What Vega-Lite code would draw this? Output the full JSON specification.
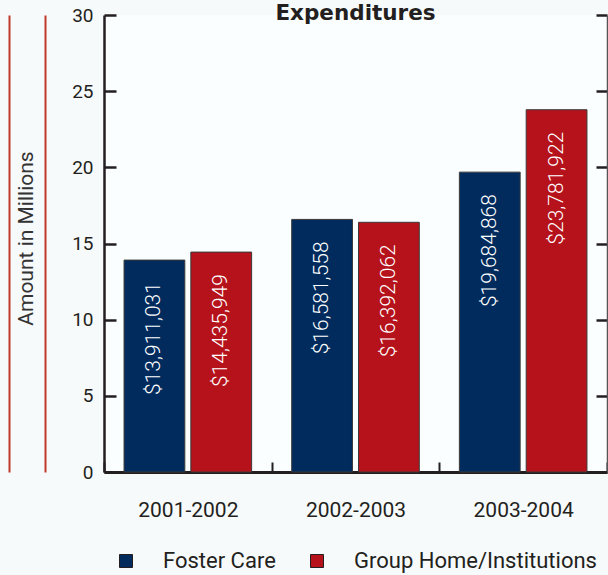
{
  "$schema": "https://vega.github.io/schema/vega-lite/v6.json",
  "autosize": "none",
  "width": 503,
  "height": 457,
  "padding": {"left": 104, "top": 15, "right": 1, "bottom": 103},
  "background": "#f7fafa",
  "view": {"fill": "#fbfefe", "stroke": null},
  "title": {"text": "Expenditures", "font": "DejaVu Sans", "fontWeight": "bold", "fontSize": 21.5, "color": "#231f20", "frame": "group", "anchor": "middle", "offset": -35, "baseline": "alphabetic"},
  "data": {"values": [
    {"year": "2001-2002", "type": "Foster Care", "amount": 13911031},
    {"year": "2001-2002", "type": "Group Home/Institutions", "amount": 14435949},
    {"year": "2002-2003", "type": "Foster Care", "amount": 16581558},
    {"year": "2002-2003", "type": "Group Home/Institutions", "amount": 16392062},
    {"year": "2003-2004", "type": "Foster Care", "amount": 19684868},
    {"year": "2003-2004", "type": "Group Home/Institutions", "amount": 23781922}
  ]},
  "encoding": {
    "x": {"field": "year", "type": "nominal", "scale": {"paddingInner": 0, "paddingOuter": 0},
      "axis": {"title": null, "labelAngle": 0, "tickBand": "extent", "tickSize": -10, "tickWidth": 2, "tickColor": "#231f20", "domainColor": "#231f20", "domainWidth": 3, "labelFont": "Roboto", "labelFontSize": 21, "labelColor": "#231f20", "labelPadding": 37}},
    "xOffset": {"field": "type", "type": "nominal", "scale": {"paddingInner": 0.09, "paddingOuter": 0.3}}
  },
  "layer": [
    {
      "layer": [
        {
          "mark": {"type": "bar", "stroke": "#3a3a3a", "strokeWidth": 1},
          "encoding": {
            "y": {"field": "amount", "type": "quantitative", "scale": {"domain": [0, 30000000], "nice": false},
              "axis": {"values": [0, 5000000, 10000000, 15000000, 20000000, 25000000, 30000000], "labelExpr": "datum.value / 1000000", "grid": false, "tickSize": -12, "tickWidth": 2.5, "tickColor": "#231f20", "domainColor": "#231f20", "domainWidth": 2.5, "labelFont": "Roboto", "labelFontSize": 19, "labelColor": "#231f20", "labelPadding": 23, "title": "Amount in Millions", "titleFont": "Roboto", "titleFontSize": 21, "titleFontWeight": "normal", "titleColor": "#333333", "titlePadding": 35, "titleY": 223}},
            "color": {"field": "type", "type": "nominal", "scale": {"domain": ["Foster Care", "Group Home/Institutions"], "range": ["#002b5c", "#b5121b"]},
              "legend": {"orient": "none", "legendX": 11, "legendY": 535, "direction": "horizontal", "title": null, "symbolType": "square", "symbolSize": 169, "symbolStrokeColor": "#231f20", "symbolStrokeWidth": 1, "labelFont": "Roboto", "labelFontSize": 22, "labelColor": "#231f20", "labelOffset": 26, "labelLimit": 400, "columnPadding": 30}}
          }
        },
        {
          "mark": {"type": "text", "angle": 270, "align": "right", "baseline": "middle", "dx": -22, "color": "white", "font": "Roboto", "fontWeight": 300, "fontSize": 21},
          "encoding": {
            "y": {"field": "amount", "type": "quantitative"},
            "text": {"field": "amount", "type": "quantitative", "format": "$,d"}
          }
        }
      ]
    },
    {
      "mark": {"type": "bar", "opacity": 0},
      "encoding": {
        "y": {"field": "amount", "type": "quantitative", "scale": {"domain": [0, 30000000], "nice": false},
          "axis": {"orient": "right", "values": [0, 5000000, 10000000, 15000000, 20000000, 25000000, 30000000], "labels": false, "title": null, "grid": false, "tickSize": -11, "tickWidth": 2.5, "tickColor": "#231f20", "domainColor": "#555555", "domainWidth": 1.5}}
      }
    },
    {
      "mark": {"type": "bar", "opacity": 0},
      "encoding": {
        "y": {"field": "amount", "type": "quantitative", "scale": {"domain": [0, 30000000], "nice": false},
          "axis": {"orient": "left", "offset": 59, "labels": false, "ticks": false, "title": null, "grid": false, "domainColor": "#c0392b", "domainWidth": 2}}
      }
    },
    {
      "mark": {"type": "bar", "opacity": 0},
      "encoding": {
        "y": {"field": "amount", "type": "quantitative", "scale": {"domain": [0, 30000000], "nice": false},
          "axis": {"orient": "left", "offset": 95, "labels": false, "ticks": false, "title": null, "grid": false, "domainColor": "#c0392b", "domainWidth": 2}}
      }
    }
  ],
  "resolve": {"scale": {"y": "independent"}}
}
